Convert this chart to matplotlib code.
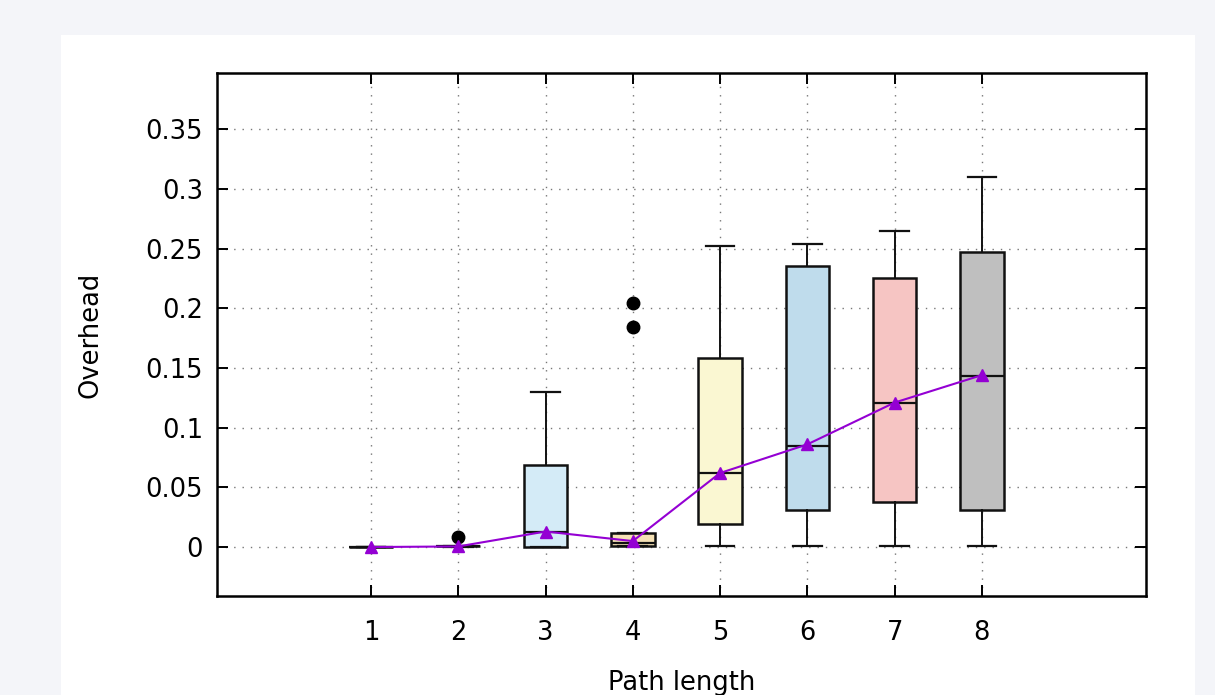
import matplotlib.pyplot as plt
from matplotlib.patches import Rectangle

# box statistics
path_len = [1, 2, 3, 4, 5, 6, 7, 8]
whis_lo = [0.0, 0.0, 0.0, 0.0005, 0.001, 0.001, 0.001, 0.001]
q1 = [0.0, 0.0005, 0.0, 0.001, 0.019, 0.031, 0.038, 0.031]
med = [0.0, 0.001, 0.013, 0.0035, 0.062, 0.085, 0.121, 0.143]
q3 = [0.0, 0.001, 0.069, 0.0115, 0.1585, 0.235, 0.225, 0.247]
whis_hi = [0.0, 0.001, 0.130, 0.0115, 0.252, 0.2535, 0.265, 0.310]
outliers = [[], [0.0085], [], [0.204, 0.184], [], [], [], []]
means = [0.0, 0.0005, 0.013, 0.005, 0.062, 0.086, 0.121, 0.144]
colors = ['#d4ebf7', '#f5e1b5', '#d4ebf7', '#f5e1b5', '#faf7d2', '#bfdcec', '#f6c5c3', '#bfbfbf']

plt.rcParams['font.family'] = 'DejaVu Sans'

fig = plt.figure(figsize=(12.15, 6.95), dpi=100)
fig.patch.set_facecolor('#f4f5f9')
fig.add_artist(Rectangle((61 / 1215, 0), (1195 - 61) / 1215, 1 - 35 / 695,
                         transform=fig.transFigure, facecolor='white',
                         edgecolor='none', zorder=-10))

ax = fig.add_axes([217 / 1215, 1 - 596 / 695, (1146 - 217) / 1215, (596 - 73) / 695])

stats = []
for i in range(len(path_len)):
    stats.append(dict(whislo=whis_lo[i], q1=q1[i], med=med[i], q3=q3[i],
                      whishi=whis_hi[i], fliers=outliers[i]))

bp = ax.bxp(stats, positions=path_len, widths=0.5, capwidths=0.33,
            patch_artist=True, showfliers=True,
            boxprops=dict(edgecolor='#111111', linewidth=1.8),
            medianprops=dict(color='#111111', linewidth=1.6),
            whiskerprops=dict(color='#111111', linewidth=1.4),
            capprops=dict(color='#111111', linewidth=1.6),
            flierprops=dict(marker='o', markerfacecolor='black',
                            markeredgecolor='black', markersize=9))
for patch, c in zip(bp['boxes'], colors):
    patch.set_facecolor(c)

ax.plot(path_len, means, color='#9400d3', linewidth=1.5, marker='^',
        markersize=9, zorder=5)

ax.set_xlim(-0.764, 9.88)
ax.set_ylim(-0.041, 0.397)
ax.set_xticks(path_len)
ax.set_xticklabels([str(p) for p in path_len])
ax.set_yticks([0, 0.05, 0.1, 0.15, 0.2, 0.25, 0.3, 0.35])
ax.set_yticklabels(['0', '0.05', '0.1', '0.15', '0.2', '0.25', '0.3', '0.35'])
ax.tick_params(direction='in', top=True, right=True, length=8, width=1.4,
               labelsize=18.5, pad=10)
ax.tick_params(axis='x', pad=17)
ax.grid(True, linestyle=(0, (1, 5)), color='#777777', linewidth=1.0)
for s in ax.spines.values():
    s.set_linewidth(1.8)

ax.set_xlabel('Path length', fontsize=18.5)
ax.set_ylabel('Overhead', fontsize=18.5)
ax.xaxis.set_label_coords(0.5, -0.142)
ax.yaxis.set_label_coords(-0.122, 0.5)

fig.savefig('out.png', dpi=100, facecolor=fig.get_facecolor())
